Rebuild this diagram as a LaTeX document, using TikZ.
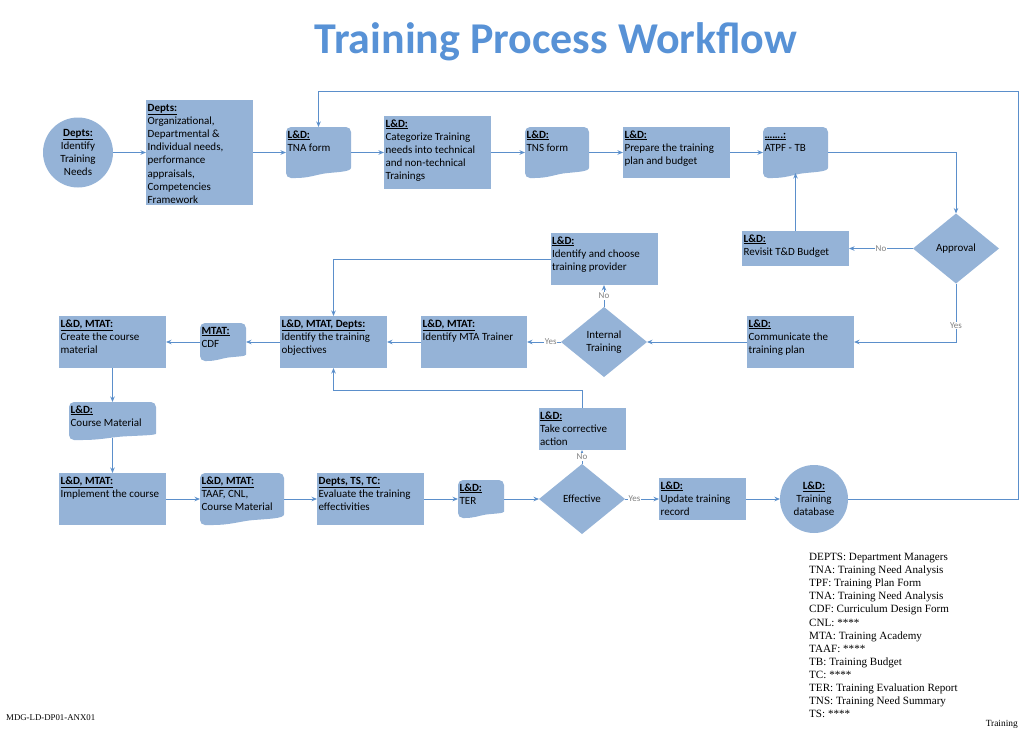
\documentclass[tikz,border=0pt]{standalone}
\usepackage{fontspec}
\setmainfont{Carlito}
\newfontfamily\legfont{Liberation Serif}
\usetikzlibrary{shapes.geometric,arrows.meta,calc,backgrounds}
\definecolor{boxfill}{HTML}{95B3D7}
\definecolor{linecol}{HTML}{5B8FCB}
\definecolor{titlecol}{HTML}{5892D6}
\newcommand{\hd}[1]{\underline{\textbf{#1}}}
\newcommand{\tb}[3]{\parbox[c][#2pt][t]{#1pt}{\raggedright\leftskip=1.6pt\relax\vspace*{1.8pt}\strut#3}}
\newcommand{\docbg}[1]{%
 \begin{pgfonlayer}{background}
 \fill[boxfill] let \p1=(#1.north west), \p2=(#1.south east), \n1={\x2-\x1}, \n2={\y1-\y2} in
  [rounded corners=5pt] (\x1,{\y2+0.5*\n2}) -- (\x1,\y1) -- (\x2,\y1) -- (\x2,{\y2+0.3*\n2})
  [sharp corners] .. controls (\x2,{\y2+0.12*\n2}) and ({\x2-0.2*\n1},{\y2+0.12*\n2}) .. ({\x2-0.4*\n1},{\y2+0.09*\n2})
  .. controls ({\x1+0.45*\n1},{\y2+0.06*\n2}) and ({\x1+0.35*\n1},\y2) .. ({\x1+0.15*\n1},\y2)
  [rounded corners=5pt] -- (\x1,\y2) -- cycle;
 \end{pgfonlayer}}
\tikzset{
 base/.style={inner sep=0pt, outer sep=0pt, font=\fontsize{11}{13.2}\selectfont, text=black},
 box/.style={base, rectangle, fill=boxfill, anchor=north west},
 docn/.style={base, rectangle, anchor=north west},
 circnode/.style={base, circle, fill=boxfill, minimum size=#1pt, align=center},
 dia/.style={base, diamond, fill=boxfill, align=center, minimum width=86pt, minimum height=70pt},
 conn/.style={draw=linecol, line width=1pt, -{Stealth[length=5.5pt,width=4.5pt]}},
 lbl/.style={fill=white, inner sep=0.6pt, font=\fontsize{9}{10}\selectfont, text=black!50},
}
\begin{document}
\begin{tikzpicture}[x=1pt,y=-1pt]
\useasboundingbox (0,0) rectangle (1024,734);
% title
\node[anchor=base, inner sep=0, text=titlecol, font=\fontsize{44}{50}\selectfont\bfseries] (title) at (556,53) {Training Process Workflow};
% row 1
\node[circnode=70] (c1) at (78,152.5) {\hd{Depts:}\\Identify\\Training\\Needs};
\node[box] (dep) at (146,100) {\tb{107}{105}{\hd{Depts:}\\Organizational,\\Departmental \&\\Individual needs,\\performance\\appraisals,\\Competencies\\Framework}};
\node[docn] (tna) at (286,127) {\tb{65}{51}{\hd{L\&D:}\\TNA form}}; \docbg{tna}
\node[box] (cat) at (384,116) {\tb{107}{73}{\hd{L\&D:}\\Categorize Training\\needs into technical\\and non-technical\\Trainings}};
\node[docn] (tns) at (525,127) {\tb{64}{51}{\hd{L\&D:}\\TNS form}}; \docbg{tns}
\node[box] (prep) at (623,127) {\tb{107}{51}{\hd{L\&D:}\\Prepare the training\\plan and budget}};
\node[docn] (atpf) at (763,127) {\tb{65}{51}{\hd{…….:}\\ATPF - TB}}; \docbg{atpf}
\node[box] (rev) at (742,231) {\tb{107}{35}{\hd{L\&D:}\\Revisit T\&D Budget}};
\node[dia] (appr) at (956,248.5) {Approval};
% row 2
\node[box] (comm) at (747,316) {\tb{107}{52}{\hd{L\&D:}\\Communicate the\\training plan}};
\node[dia] (int) at (604,342) {Internal\\Training};
\node[box] (prov) at (550.5,233) {\tb{107}{52}{\hd{L\&D:}\\Identify and choose\\training provider}};
\node[box] (mta) at (421,316) {\tb{106}{52}{\hd{L\&D, MTAT:}\\Identify MTA Trainer}};
\node[box] (obj) at (280,316) {\tb{107}{52}{\hd{L\&D, MTAT, Depts:}\\Identify the training\\objectives}};
\node[docn] (cdf) at (200,323) {\tb{46}{38}{\hd{MTAT:}\\CDF}}; \docbg{cdf}
\node[box] (cre) at (59,316) {\tb{107}{52}{\hd{L\&D, MTAT:}\\Create the course\\material}};
\node[docn] (cm) at (69,402) {\tb{87}{38}{\hd{L\&D:}\\Course Material}}; \docbg{cm}
% row 3
\node[box] (imp) at (59,473) {\tb{107}{52}{\hd{L\&D, MTAT:}\\Implement the course}};
\node[docn] (taaf) at (200,473) {\tb{84}{52}{\hd{L\&D, MTAT:}\\TAAF, CNL,\\Course Material}}; \docbg{taaf}
\node[box] (eval) at (317,473) {\tb{107}{52}{\hd{Depts, TS, TC:}\\Evaluate the training\\effectivities}};
\node[docn] (ter) at (458,480) {\tb{46}{38}{\hd{L\&D:}\\TER}}; \docbg{ter}
\node[dia] (eff) at (582,499) {Effective};
\node[box] (corr) at (538.5,408) {\tb{87}{42}{\hd{L\&D:}\\Take corrective\\action}};
\node[box] (upd) at (659,478) {\tb{87}{42}{\hd{L\&D:}\\Update training\\record}};
\node[circnode=68] (db) at (814,499) {\hd{L\&D:}\\Training\\database};
% connectors row 1
\draw[conn] (c1.east) -- (dep.west);
\draw[conn] (dep.east) -- (tna.west);
\draw[conn] (tna.east) -- (cat.west);
\draw[conn] (cat.east) -- (tns.west);
\draw[conn] (tns.east) -- (prep.west);
\draw[conn] (prep.east) -- (atpf.west);
\draw[conn] (atpf.east) -| (appr.north);
\draw[conn] (appr.west) -- (rev.east) node[midway,lbl] {No};
\draw[conn] (rev.north) -- ($(rev.north |- atpf.south)+(0,-5)$);
\draw[conn] (appr.south) |- (comm.east) node[pos=0.36,lbl] {Yes};
% row 2
\draw[conn] (comm.west) -- (int.east);
\draw[conn] (int.north) -- (prov.south) node[midway,lbl] {No};
\draw[conn] (int.west) -- (mta.east) node[pos=0.3,lbl] {Yes};
\draw[conn] (prov.west) -| (obj.north);
\draw[conn] (mta.west) -- (obj.east);
\draw[conn] (obj.west) -- (cdf.east);
\draw[conn] (cdf.west) -- (cre.east);
\draw[conn] (cre.south) -- (cm.north);
\draw[conn] ($(cm.south)+(0,-2)$) -- (imp.north);
% row 3
\draw[conn] (imp.east) -- (taaf.west);
\draw[conn] (taaf.east) -- (eval.west);
\draw[conn] (eval.east) -- (ter.west);
\draw[conn] (ter.east) -- (eff.west);
\draw[conn] (eff.north) -- (corr.south) node[midway,lbl] {No};
\draw[conn] (corr.north) |- ([yshift=-22pt]obj.south) -- (obj.south);
\draw[conn] (eff.east) -- (upd.west) node[pos=0.28,lbl] {Yes};
\draw[conn] (upd.east) -- (db.west);
\coordinate (lp) at (1018,91.5);
\draw[conn] (db.east) -| (lp) -| (tna.north);
% legend
\node[anchor=north west, align=left, inner sep=0, font=\legfont\fontsize{11.1}{13.1}\selectfont] (leg) at (809,553) {DEPTS: Department Managers\\TNA: Training Need Analysis\\TPF: Training Plan Form\\TNA: Training Need Analysis\\CDF: Curriculum Design Form\\CNL: ****\\MTA: Training Academy\\TAAF: ****\\TB: Training Budget\\TC: ****\\TER: Training Evaluation Report\\TNS: Training Need Summary\\TS: ****};
\node[anchor=base west, inner sep=0, font=\legfont\fontsize{8.8}{10}\selectfont] (ftl) at (6,720) {MDG-LD-DP01-ANX01};
\node[anchor=base east, inner sep=0, font=\legfont\fontsize{9.4}{10}\selectfont] (ftr) at (1018,726) {Training};
\end{tikzpicture}
\end{document}
